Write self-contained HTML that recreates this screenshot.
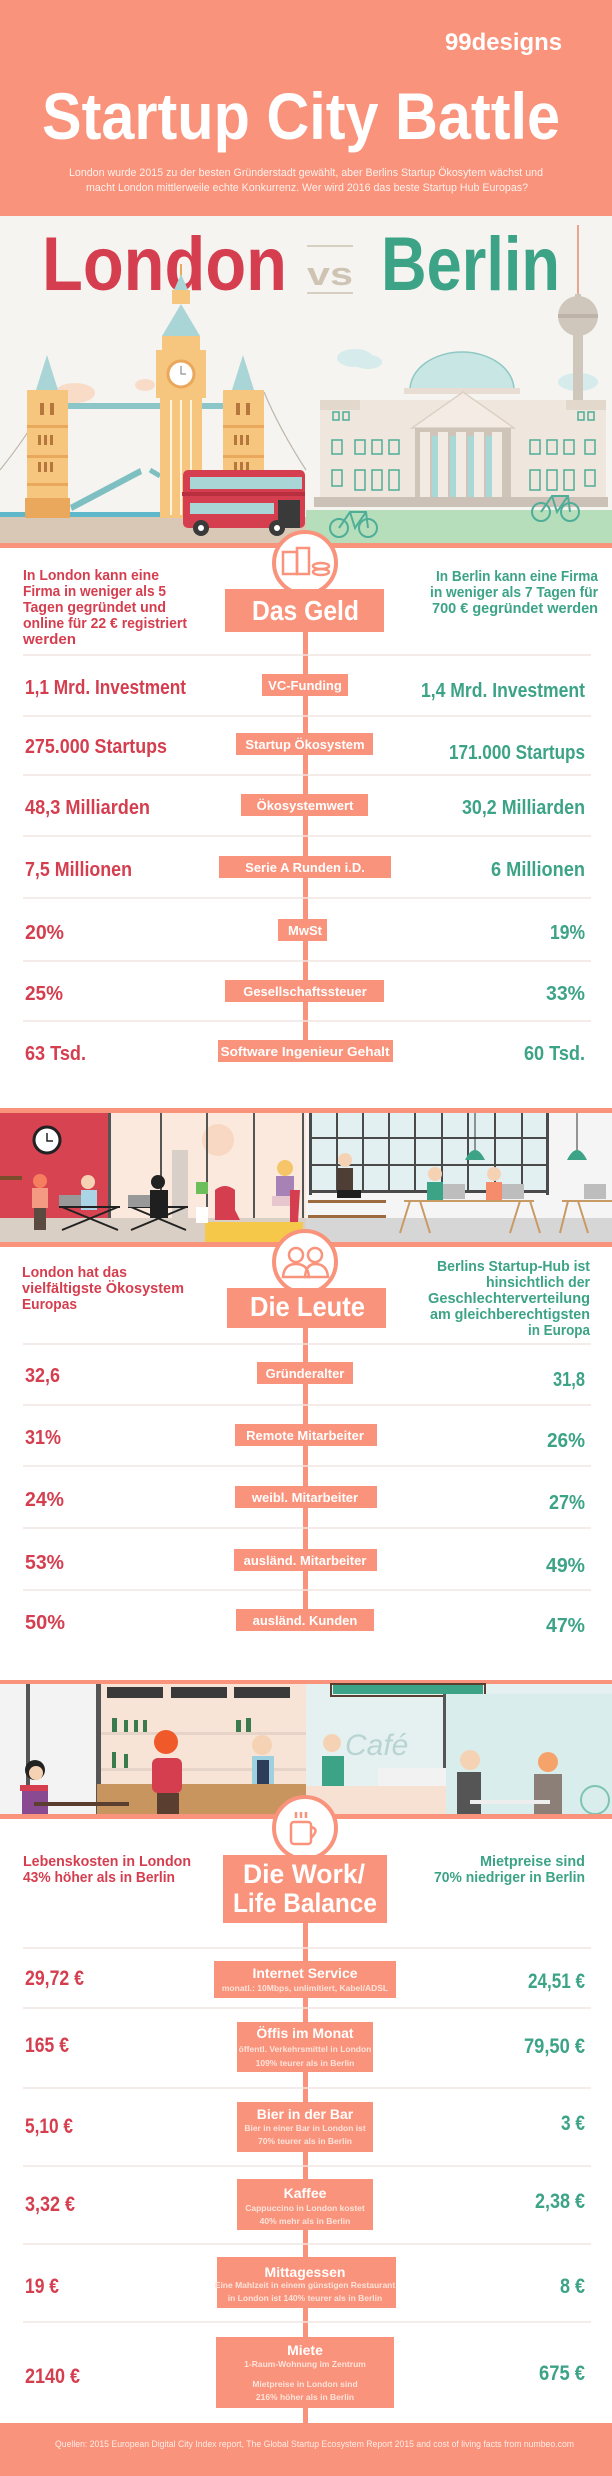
<!DOCTYPE html>
<html><head><meta charset="utf-8"><style>
html,body{margin:0;padding:0;background:#fff}
svg{display:block}
text{font-family:"Liberation Sans",sans-serif;font-weight:bold}
.r{fill:#D53E4F}.g{fill:#3CA387}.w{fill:#fff}
.lab{fill:#fff;font-size:13px;text-anchor:middle}
.sub{fill:#FDE3DA;font-size:8.5px;font-weight:normal;text-anchor:middle}
.sep{stroke:#EFE6E2;stroke-width:1.5}
.bx{fill:#F9937B}
</style></head><body>
<svg width="612" height="2476" viewBox="0 0 612 2476" xmlns="http://www.w3.org/2000/svg">
<!-- HEADER -->
<rect x="0" y="0" width="612" height="216" fill="#F9937B"/>
<text x="445" y="50" class="w" font-size="24" textLength="117" lengthAdjust="spacingAndGlyphs">99designs</text>
<text x="42" y="139" class="w" font-size="66" textLength="518" lengthAdjust="spacingAndGlyphs">Startup City Battle</text>
<text x="69" y="176" fill="#FFF1EC" font-size="11" style="font-weight:normal" textLength="474" lengthAdjust="spacingAndGlyphs">London wurde 2015 zu der besten Gründerstadt gewählt, aber Berlins Startup Ökosytem wächst und</text>
<text x="86" y="191" fill="#FFF1EC" font-size="11" style="font-weight:normal" textLength="442" lengthAdjust="spacingAndGlyphs">macht London mittlerweile echte Konkurrenz. Wer wird 2016 das beste Startup Hub Europas?</text>

<!-- HERO SCENE -->
<rect x="0" y="216" width="612" height="330" fill="#F5F4F0"/>
<!-- clouds -->
<ellipse cx="75" cy="393" rx="20" ry="10" fill="#F9DCC8"/><ellipse cx="62" cy="398" rx="14" ry="8" fill="#F9DCC8"/>
<ellipse cx="355" cy="358" rx="18" ry="9" fill="#D5EBEC"/><ellipse cx="368" cy="362" rx="14" ry="7" fill="#D5EBEC"/>
<ellipse cx="578" cy="382" rx="20" ry="9" fill="#D5EBEC"/>
<ellipse cx="145" cy="385" rx="10" ry="6" fill="#F9DCC8"/>
<!-- text -->
<text x="42" y="290" class="r" font-size="76" textLength="245" lengthAdjust="spacingAndGlyphs">London</text>
<line x1="307" y1="246" x2="353" y2="246" stroke="#D8CFC3" stroke-width="2"/>
<line x1="307" y1="293" x2="353" y2="293" stroke="#D8CFC3" stroke-width="2"/>
<text x="307" y="285" fill="#CFC4B4" font-size="32" textLength="46" lengthAdjust="spacingAndGlyphs">vs</text>
<text x="381" y="290" class="g" font-size="76" textLength="179" lengthAdjust="spacingAndGlyphs">Berlin</text>
<!-- TV tower -->
<line x1="578" y1="225" x2="578" y2="296" stroke="#E9A58E" stroke-width="2"/>
<rect x="575" y="294" width="6" height="8" fill="#D0C7BC"/>
<circle cx="578" cy="316" r="20" fill="#D0C7BC"/>
<rect x="558" y="314" width="40" height="4" fill="#BDB3A8"/>
<rect x="573" y="334" width="10" height="80" fill="#D0C7BC"/>
<!-- Reichstag -->
<path d="M410 390 A52 38 0 0 1 514 390 Z" fill="#C8E7E4" stroke="#8FC8C4" stroke-width="1.5"/>
<rect x="404" y="388" width="116" height="6" fill="#E8DDD2"/>
<rect x="320" y="400" width="286" height="105" fill="#EFE6DD"/>
<rect x="320" y="400" width="40" height="10" fill="#E3D8CC"/>
<rect x="566" y="400" width="40" height="10" fill="#E3D8CC"/>
<path d="M412 428 L463 392 L514 428 Z" fill="#F4ECE4" stroke="#DCD0C4" stroke-width="1.5"/>
<rect x="415" y="428" width="96" height="70" fill="#CFC4B8"/>
<rect x="420" y="432" width="10" height="66" fill="#F2EBE3"/><rect x="438" y="432" width="10" height="66" fill="#F2EBE3"/><rect x="456" y="432" width="10" height="66" fill="#F2EBE3"/><rect x="474" y="432" width="10" height="66" fill="#F2EBE3"/><rect x="492" y="432" width="10" height="66" fill="#F2EBE3"/>
<rect x="432" y="436" width="6" height="62" fill="#A9D9D6"/><rect x="450" y="436" width="6" height="62" fill="#A9D9D6"/><rect x="468" y="436" width="6" height="62" fill="#A9D9D6"/><rect x="486" y="436" width="6" height="62" fill="#A9D9D6"/>
<g fill="none" stroke="#4FAE98" stroke-width="1.5">
<rect x="332" y="440" width="10" height="14"/><rect x="355" y="440" width="10" height="14"/><rect x="372" y="440" width="10" height="14"/><rect x="389" y="440" width="10" height="14"/>
<rect x="332" y="470" width="10" height="16"/><rect x="355" y="470" width="10" height="20"/><rect x="372" y="470" width="10" height="20"/><rect x="389" y="470" width="10" height="20"/>
<rect x="530" y="440" width="10" height="14"/><rect x="547" y="440" width="10" height="14"/><rect x="564" y="440" width="10" height="14"/><rect x="585" y="440" width="10" height="14"/>
<rect x="530" y="470" width="10" height="20"/><rect x="547" y="470" width="10" height="20"/><rect x="564" y="470" width="10" height="20"/><rect x="585" y="470" width="10" height="16"/>
<rect x="333" y="412" width="6" height="8"/><rect x="343" y="412" width="6" height="8"/><rect x="578" y="412" width="6" height="8"/><rect x="588" y="412" width="6" height="8"/>
</g>
<rect x="314" y="497" width="294" height="10" fill="#CBC1B6"/>
<!-- grounds -->
<rect x="306" y="510" width="306" height="36" fill="#B6DEBB"/>
<rect x="0" y="512" width="160" height="5" fill="#5FB8CA"/>
<rect x="0" y="517" width="306" height="29" fill="#D8C8B5"/>
<!-- Tower Bridge -->
<rect x="27" y="403" width="196" height="6" fill="#8CC6C8"/>
<path d="M0 470 Q40 420 48 392" stroke="#BFB6AC" fill="none" stroke-width="1.2"/>
<path d="M264 392 Q280 430 306 470" stroke="#BFB6AC" fill="none" stroke-width="1.2"/>
<path d="M70 505 L140 468 L142 474 L72 511 Z" fill="#7EC0C2"/>
<path d="M150 470 L160 476" stroke="#7EC0C2" stroke-width="5"/>
<g>
<path d="M36 390 L47 355 L58 390 Z" fill="#A9D5D6"/>
<rect x="27" y="390" width="41" height="110" fill="#F6C67E"/>
<rect x="27" y="425" width="41" height="3" fill="#E9A85C"/><rect x="27" y="455" width="41" height="3" fill="#E9A85C"/><rect x="27" y="483" width="41" height="3" fill="#E9A85C"/>
<rect x="40" y="403" width="4" height="12" fill="#B5773E"/><rect x="50" y="403" width="4" height="12" fill="#B5773E"/>
<rect x="38" y="435" width="3" height="10" fill="#B5773E"/><rect x="44" y="435" width="3" height="10" fill="#B5773E"/><rect x="50" y="435" width="3" height="10" fill="#B5773E"/>
<rect x="38" y="462" width="3" height="10" fill="#B5773E"/><rect x="44" y="462" width="3" height="10" fill="#B5773E"/><rect x="50" y="462" width="3" height="10" fill="#B5773E"/>
<rect x="25" y="498" width="45" height="20" fill="#E9A85C"/>
</g>
<g>
<path d="M232 390 L243 355 L254 390 Z" fill="#A9D5D6"/>
<rect x="223" y="390" width="41" height="128" fill="#F6C67E"/>
<rect x="223" y="425" width="41" height="3" fill="#E9A85C"/><rect x="223" y="455" width="41" height="3" fill="#E9A85C"/><rect x="223" y="483" width="41" height="3" fill="#E9A85C"/>
<rect x="236" y="403" width="4" height="12" fill="#B5773E"/><rect x="246" y="403" width="4" height="12" fill="#B5773E"/>
<rect x="234" y="435" width="3" height="10" fill="#B5773E"/><rect x="240" y="435" width="3" height="10" fill="#B5773E"/><rect x="246" y="435" width="3" height="10" fill="#B5773E"/>
<rect x="234" y="462" width="3" height="10" fill="#B5773E"/><rect x="240" y="462" width="3" height="10" fill="#B5773E"/><rect x="246" y="462" width="3" height="10" fill="#B5773E"/>
</g>
<!-- Big Ben -->
<line x1="181" y1="264" x2="181" y2="276" stroke="#E9A85C" stroke-width="2"/>
<path d="M174 290 L181 274 L188 290 Z" fill="#A9D5D6"/>
<rect x="172" y="290" width="18" height="14" fill="#F6C67E"/>
<path d="M162 336 L181 304 L200 336 Z" fill="#A9D5D6"/>
<rect x="162" y="336" width="38" height="14" fill="#F6C67E"/>
<rect x="156" y="350" width="50" height="48" fill="#F6C67E"/>
<circle cx="181" cy="374" r="13" fill="#fff" stroke="#E9A85C" stroke-width="3"/>
<path d="M181 366 L181 374 L186 374" stroke="#777" fill="none" stroke-width="1"/>
<rect x="160" y="398" width="42" height="120" fill="#F6C67E"/>
<rect x="170" y="400" width="2" height="115" fill="#FFF3DE"/><rect x="180" y="400" width="2" height="115" fill="#FFF3DE"/><rect x="190" y="400" width="2" height="115" fill="#FFF3DE"/>
<!-- Bus -->
<rect x="183" y="470" width="122" height="58" rx="5" fill="#D53E4F"/>
<rect x="190" y="477" width="112" height="12" fill="#A9D5D6"/>
<rect x="182" y="492" width="123" height="4" fill="#B8303F"/>
<rect x="190" y="503" width="84" height="11" fill="#A9D5D6"/>
<rect x="278" y="500" width="22" height="28" fill="#3A3A3A"/>
<circle cx="201" cy="528" r="8" fill="#3A3A3A"/><circle cx="201" cy="528" r="3" fill="#fff"/>
<circle cx="277" cy="528" r="8" fill="#3A3A3A"/><circle cx="277" cy="528" r="3" fill="#fff"/>
<!-- bikes -->
<g fill="none" stroke="#4FAE98" stroke-width="2">
<circle cx="339" cy="528" r="9"/><circle cx="368" cy="528" r="9"/><path d="M339 528 L350 512 L366 512 L368 528 M350 512 L355 528 L366 512"/>
<circle cx="541" cy="512" r="9"/><circle cx="570" cy="512" r="9"/><path d="M541 512 L552 496 L568 496 L570 512 M552 496 L557 512 L568 496"/>
</g>
<rect x="0" y="543" width="612" height="5" fill="#F9937B"/>

<!-- SECTION 1: DAS GELD -->
<rect x="303" y="620" width="5" height="431" class="bx"/>
<circle cx="305" cy="563" r="31" fill="#fff" stroke="#F9937B" stroke-width="4"/>
<g fill="none" stroke="#F9937B" stroke-width="2.5"><rect x="283" y="552" width="14" height="22"/><rect x="297" y="548" width="12" height="26"/><ellipse cx="321" cy="566" rx="8" ry="3"/><ellipse cx="321" cy="572" rx="8" ry="3"/></g>
<rect x="225" y="589" width="159" height="43" class="bx"/>
<text x="252" y="620" class="w" font-size="28" textLength="107" lengthAdjust="spacingAndGlyphs">Das Geld</text>
<g class="r" font-size="15">
<text x="23" y="580" textLength="136" lengthAdjust="spacingAndGlyphs">In London kann eine</text>
<text x="23" y="596" textLength="143" lengthAdjust="spacingAndGlyphs">Firma in weniger als 5</text>
<text x="23" y="612" textLength="143" lengthAdjust="spacingAndGlyphs">Tagen gegründet und</text>
<text x="23" y="628" textLength="164" lengthAdjust="spacingAndGlyphs">online für 22 € registriert</text>
<text x="23" y="644" textLength="53" lengthAdjust="spacingAndGlyphs">werden</text>
</g>
<g class="g" font-size="15" text-anchor="end">
<text x="598" y="581" textLength="162" lengthAdjust="spacingAndGlyphs">In Berlin kann eine Firma</text>
<text x="598" y="597" textLength="168" lengthAdjust="spacingAndGlyphs">in weniger als 7 Tagen für</text>
<text x="598" y="613" textLength="166" lengthAdjust="spacingAndGlyphs">700 € gegründet werden</text>
</g>
<g class="sep"><line x1="23" y1="655" x2="591" y2="655"/><line x1="23" y1="716" x2="591" y2="716"/><line x1="23" y1="775" x2="591" y2="775"/><line x1="23" y1="836" x2="591" y2="836"/><line x1="23" y1="898" x2="591" y2="898"/><line x1="23" y1="961" x2="591" y2="961"/><line x1="23" y1="1021" x2="591" y2="1021"/></g>
<g class="bx">
<rect x="262" y="674" width="86" height="22"/><rect x="236" y="733" width="137" height="22"/><rect x="241" y="794" width="127" height="22"/><rect x="219" y="856" width="172" height="22"/><rect x="278" y="919" width="49" height="22"/><rect x="225" y="980" width="159" height="22"/><rect x="218" y="1040" width="175" height="22"/>
</g>
<g class="lab">
<text x="305" y="690">VC-Funding</text><text x="305" y="749">Startup Ökosystem</text><text x="305" y="810">Ökosystemwert</text><text x="305" y="872">Serie A Runden i.D.</text><text x="305" y="935">MwSt</text><text x="305" y="996">Gesellschaftssteuer</text><text x="305" y="1056" textLength="169" lengthAdjust="spacingAndGlyphs">Software Ingenieur Gehalt</text>
</g>
<g class="r" font-size="20">
<text x="25" y="694" textLength="161" lengthAdjust="spacingAndGlyphs">1,1 Mrd. Investment</text>
<text x="25" y="753" textLength="142" lengthAdjust="spacingAndGlyphs">275.000 Startups</text>
<text x="25" y="814" textLength="125" lengthAdjust="spacingAndGlyphs">48,3 Milliarden</text>
<text x="25" y="876" textLength="107" lengthAdjust="spacingAndGlyphs">7,5 Millionen</text>
<text x="25" y="939" textLength="39" lengthAdjust="spacingAndGlyphs">20%</text>
<text x="25" y="1000" textLength="38" lengthAdjust="spacingAndGlyphs">25%</text>
<text x="25" y="1060" textLength="61" lengthAdjust="spacingAndGlyphs">63 Tsd.</text>
</g>
<g class="g" font-size="20" text-anchor="end">
<text x="585" y="697" textLength="164" lengthAdjust="spacingAndGlyphs">1,4 Mrd. Investment</text>
<text x="585" y="759" textLength="136" lengthAdjust="spacingAndGlyphs">171.000 Startups</text>
<text x="585" y="814" textLength="123" lengthAdjust="spacingAndGlyphs">30,2 Milliarden</text>
<text x="585" y="876" textLength="94" lengthAdjust="spacingAndGlyphs">6 Millionen</text>
<text x="585" y="939" textLength="35" lengthAdjust="spacingAndGlyphs">19%</text>
<text x="585" y="1000" textLength="39" lengthAdjust="spacingAndGlyphs">33%</text>
<text x="585" y="1060" textLength="61" lengthAdjust="spacingAndGlyphs">60 Tsd.</text>
</g>

<!-- OFFICE SCENE -->
<rect x="0" y="1108" width="612" height="5" fill="#F9937B"/>
<rect x="0" y="1113" width="306" height="130" fill="#FBE9DD"/>
<rect x="0" y="1113" width="109" height="105" fill="#D84352"/>
<circle cx="218" cy="1140" r="16" fill="#F8D8C2"/>
<g fill="#555"><rect x="108" y="1113" width="3" height="105"/><rect x="160" y="1113" width="2" height="105"/><rect x="206" y="1113" width="2" height="105"/><rect x="253" y="1113" width="2" height="105"/><rect x="302" y="1113" width="2" height="105"/></g>
<rect x="172" y="1150" width="16" height="68" fill="#D8CFC8"/>
<rect x="0" y="1218" width="306" height="25" fill="#D9CFC4"/>
<rect x="205" y="1222" width="98" height="20" fill="#F6C84A"/>
<circle cx="47" cy="1140" r="13" fill="#fff" stroke="#222" stroke-width="3"/>
<path d="M47 1133 L47 1141 L53 1141" stroke="#222" fill="none" stroke-width="1.5"/>
<rect x="0" y="1176" width="22" height="4" fill="#7A4E2D"/>
<!-- people office left -->
<circle cx="40" cy="1181" r="7" fill="#F57E5E"/><rect x="32" y="1188" width="16" height="20" fill="#F59A82"/><rect x="34" y="1208" width="12" height="22" fill="#5A4A40"/>
<circle cx="88" cy="1182" r="7" fill="#F6D2B5"/><rect x="81" y="1190" width="16" height="20" fill="#A9D5E6"/>
<rect x="59" y="1195" width="22" height="12" fill="#999"/>
<g stroke="#222" stroke-width="2" fill="none"><path d="M59 1207 H120 M62 1207 L118 1230 M118 1207 L62 1230"/><path d="M128 1207 H188 M131 1207 L186 1230 M186 1207 L131 1230"/></g>
<circle cx="158" cy="1182" r="7" fill="#222"/><rect x="150" y="1190" width="18" height="28" fill="#1F1F1F"/>
<rect x="128" y="1195" width="22" height="12" fill="#999"/>
<rect x="196" y="1182" width="12" height="12" fill="#6BBE5A"/><rect x="196" y="1207" width="12" height="16" fill="#fff"/>
<path d="M215 1220 L215 1190 Q225 1182 235 1190 L235 1210 L240 1220 Z" fill="#D53E4F"/>
<circle cx="285" cy="1168" r="8" fill="#F6C56A"/><rect x="276" y="1176" width="18" height="20" fill="#A682B6"/><rect x="272" y="1196" width="20" height="10" fill="#E8C6CE"/>
<path d="M290 1190 L300 1190 L298 1222 L290 1222 Z" fill="#D53E4F"/>
<!-- right office -->
<rect x="306" y="1113" width="306" height="130" fill="#F5F5F5"/>
<rect x="309" y="1113" width="240" height="79" fill="#E3F0F2"/>
<g fill="#4A4A4A"><rect x="309" y="1113" width="3" height="82"/><rect x="336" y="1113" width="2" height="79"/><rect x="362" y="1113" width="2" height="79"/><rect x="388" y="1113" width="2" height="79"/><rect x="414" y="1113" width="2" height="79"/><rect x="441" y="1113" width="2" height="79"/><rect x="467" y="1113" width="2" height="79"/><rect x="494" y="1113" width="2" height="79"/><rect x="521" y="1113" width="2" height="79"/><rect x="546" y="1113" width="3" height="82"/>
<rect x="309" y="1137" width="240" height="2"/><rect x="309" y="1164" width="240" height="2"/><rect x="309" y="1190" width="240" height="3"/></g>
<rect x="306" y="1218" width="306" height="25" fill="#D6D6D6"/>
<line x1="475" y1="1113" x2="475" y2="1150" stroke="#333"/><path d="M465 1160 Q475 1140 485 1160 Z" fill="#3CA387"/>
<line x1="577" y1="1113" x2="577" y2="1150" stroke="#333"/><path d="M567 1160 Q577 1140 587 1160 Z" fill="#3CA387"/>
<circle cx="345" cy="1160" r="7" fill="#F6D2B5"/><rect x="337" y="1168" width="16" height="22" fill="#4E3E36"/><rect x="337" y="1190" width="24" height="8" fill="#1F1F1F"/>
<rect x="308" y="1200" width="78" height="3" fill="#9C6A3E"/><rect x="308" y="1215" width="78" height="3" fill="#9C6A3E"/>
<circle cx="435" cy="1174" r="7" fill="#F6D2B5"/><rect x="427" y="1182" width="16" height="18" fill="#3CA387"/>
<circle cx="494" cy="1174" r="7" fill="#F6D2B5"/><rect x="486" y="1182" width="16" height="18" fill="#F58C6B"/>
<rect x="443" y="1184" width="22" height="15" fill="#BDBDBD"/><rect x="502" y="1184" width="22" height="15" fill="#BDBDBD"/><rect x="584" y="1184" width="22" height="15" fill="#BDBDBD"/>
<g stroke="#C89A66" stroke-width="2" fill="none"><path d="M404 1201 H534 M410 1201 L400 1233 M420 1201 L430 1233 M520 1201 L510 1233 M530 1201 L540 1233"/><path d="M562 1201 H612 M568 1201 L560 1233 M578 1201 L588 1233"/></g>
<rect x="0" y="1242" width="612" height="5" fill="#F9937B"/>

<!-- SECTION 2: DIE LEUTE -->
<rect x="303" y="1320" width="5" height="300" class="bx"/>
<circle cx="305" cy="1262" r="31" fill="#fff" stroke="#F9937B" stroke-width="4"/>
<g fill="none" stroke="#F9937B" stroke-width="2.5"><circle cx="296" cy="1255" r="7"/><path d="M283 1277 Q284 1264 296 1264 Q308 1264 309 1277 Z"/><circle cx="315" cy="1255" r="7"/><path d="M305 1277 Q306 1264 315 1264 Q327 1264 328 1277 Z"/></g>
<rect x="227" y="1288" width="159" height="40" class="bx"/>
<text x="250" y="1316" class="w" font-size="28" textLength="115" lengthAdjust="spacingAndGlyphs">Die Leute</text>
<g class="r" font-size="15">
<text x="22" y="1277" textLength="105" lengthAdjust="spacingAndGlyphs">London hat das</text>
<text x="22" y="1293" textLength="162" lengthAdjust="spacingAndGlyphs">vielfältigste Ökosystem</text>
<text x="22" y="1309" textLength="55" lengthAdjust="spacingAndGlyphs">Europas</text>
</g>
<g class="g" font-size="15" text-anchor="end">
<text x="590" y="1271" textLength="153" lengthAdjust="spacingAndGlyphs">Berlins Startup-Hub ist</text>
<text x="590" y="1287" textLength="104" lengthAdjust="spacingAndGlyphs">hinsichtlich der</text>
<text x="590" y="1303" textLength="162" lengthAdjust="spacingAndGlyphs">Geschlechterverteilung</text>
<text x="590" y="1319" textLength="160" lengthAdjust="spacingAndGlyphs">am gleichberechtigsten</text>
<text x="590" y="1335" textLength="62" lengthAdjust="spacingAndGlyphs">in Europa</text>
</g>
<g class="sep"><line x1="23" y1="1344" x2="591" y2="1344"/><line x1="23" y1="1405" x2="591" y2="1405"/><line x1="23" y1="1466" x2="591" y2="1466"/><line x1="23" y1="1528" x2="591" y2="1528"/><line x1="23" y1="1590" x2="591" y2="1590"/></g>
<g class="bx"><rect x="257" y="1362" width="96" height="22"/><rect x="235" y="1424" width="142" height="22"/><rect x="235" y="1486" width="142" height="22"/><rect x="234" y="1549" width="143" height="22"/><rect x="236" y="1609" width="138" height="22"/></g>
<g class="lab"><text x="305" y="1378">Gründeralter</text><text x="305" y="1440">Remote Mitarbeiter</text><text x="305" y="1502">weibl. Mitarbeiter</text><text x="305" y="1565">ausländ. Mitarbeiter</text><text x="305" y="1625">ausländ. Kunden</text></g>
<g class="r" font-size="20">
<text x="25" y="1382" textLength="35" lengthAdjust="spacingAndGlyphs">32,6</text>
<text x="25" y="1444" textLength="36" lengthAdjust="spacingAndGlyphs">31%</text>
<text x="25" y="1506" textLength="39" lengthAdjust="spacingAndGlyphs">24%</text>
<text x="25" y="1569" textLength="39" lengthAdjust="spacingAndGlyphs">53%</text>
<text x="25" y="1629" textLength="40" lengthAdjust="spacingAndGlyphs">50%</text>
</g>
<g class="g" font-size="20" text-anchor="end">
<text x="585" y="1386" textLength="32" lengthAdjust="spacingAndGlyphs">31,8</text>
<text x="585" y="1447" textLength="38" lengthAdjust="spacingAndGlyphs">26%</text>
<text x="585" y="1509" textLength="36" lengthAdjust="spacingAndGlyphs">27%</text>
<text x="585" y="1572" textLength="39" lengthAdjust="spacingAndGlyphs">49%</text>
<text x="585" y="1632" textLength="39" lengthAdjust="spacingAndGlyphs">47%</text>
</g>

<!-- BAR / CAFE SCENE -->
<rect x="0" y="1680" width="612" height="4" fill="#F9937B"/>
<rect x="0" y="1684" width="306" height="130" fill="#F8E4D7"/>
<rect x="0" y="1684" width="100" height="130" fill="#F3F3F3"/>
<rect x="26" y="1684" width="4" height="130" fill="#555"/><rect x="96" y="1684" width="5" height="130" fill="#555"/>
<g fill="#3A3A3A"><rect x="107" y="1687" width="56" height="11"/><rect x="171" y="1687" width="56" height="11"/><rect x="234" y="1687" width="56" height="11"/></g>
<rect x="101" y="1732" width="205" height="3" fill="#E6D4C8"/><rect x="101" y="1768" width="205" height="3" fill="#E6D4C8"/>
<g fill="#3B7A4C"><rect x="112" y="1718" width="5" height="14"/><rect x="124" y="1720" width="4" height="12"/><rect x="134" y="1720" width="4" height="12"/><rect x="143" y="1720" width="4" height="12"/><rect x="112" y="1752" width="4" height="16"/><rect x="124" y="1754" width="4" height="14"/><rect x="236" y="1720" width="5" height="12"/><rect x="246" y="1718" width="5" height="14"/></g>
<rect x="97" y="1784" width="209" height="30" fill="#C8955E"/>
<circle cx="166" cy="1742" r="12" fill="#F05A2A"/><rect x="152" y="1758" width="30" height="35" rx="6" fill="#D53E4F"/><rect x="157" y="1793" width="22" height="21" fill="#5A3E30"/>
<circle cx="262" cy="1745" r="10" fill="#F6D2B5"/><rect x="252" y="1756" width="22" height="28" fill="#9FD0E0"/><rect x="257" y="1760" width="12" height="24" fill="#2E3E5A"/>
<circle cx="35" cy="1770" r="10" fill="#222"/><circle cx="36" cy="1773" r="7" fill="#F6D2B5"/><rect x="22" y="1785" width="26" height="29" fill="#8A4A92"/><rect x="20" y="1785" width="28" height="6" fill="#D53E4F"/>
<rect x="34" y="1802" width="95" height="4" fill="#5A3E30"/>
<rect x="306" y="1684" width="306" height="130" fill="#E5F1F0"/>
<rect x="333" y="1684" width="150" height="10" fill="#3CA387"/><rect x="331" y="1684" width="154" height="12" fill="none" stroke="#5A3E30" stroke-width="2"/>
<rect x="445" y="1694" width="167" height="120" fill="#D9EDEC"/>
<rect x="443" y="1694" width="3" height="120" fill="#555"/>
<text x="345" y="1755" fill="#B8D4D2" font-size="30" style="font-style:italic;font-weight:normal">Café</text>
<rect x="378" y="1768" width="68" height="20" fill="#F2F2F2"/>
<circle cx="332" cy="1743" r="9" fill="#F6D2B5"/><rect x="322" y="1756" width="22" height="30" fill="#3CA387"/>
<rect x="306" y="1786" width="140" height="28" fill="#F6E1D3"/>
<circle cx="470" cy="1760" r="10" fill="#F6D2B5"/><rect x="457" y="1772" width="24" height="42" fill="#555"/>
<circle cx="548" cy="1762" r="10" fill="#F6A36B"/><rect x="534" y="1774" width="28" height="40" fill="#8C7F77"/>
<rect x="470" y="1800" width="80" height="4" fill="#EEE"/>
<circle cx="595" cy="1800" r="14" fill="none" stroke="#7EC4B4" stroke-width="2"/>
<rect x="0" y="1814" width="612" height="5" fill="#F9937B"/>

<!-- SECTION 3: WORK/LIFE -->
<rect x="303" y="1900" width="5" height="523" class="bx"/>
<circle cx="305" cy="1828" r="31" fill="#fff" stroke="#F9937B" stroke-width="4"/>
<g fill="none" stroke="#F9937B" stroke-width="2.5"><rect x="291" y="1822" width="20" height="22" rx="3"/><path d="M311 1827 Q320 1829 311 1838"/><path d="M296 1812 v6 M301 1812 v6 M306 1812 v6"/></g>
<rect x="223" y="1855" width="164" height="68" class="bx"/>
<text x="243" y="1883" class="w" font-size="27" textLength="122" lengthAdjust="spacingAndGlyphs">Die Work/</text>
<text x="233" y="1912" class="w" font-size="27" textLength="144" lengthAdjust="spacingAndGlyphs">Life Balance</text>
<g class="r" font-size="15">
<text x="23" y="1866" textLength="168" lengthAdjust="spacingAndGlyphs">Lebenskosten in London</text>
<text x="23" y="1882" textLength="152" lengthAdjust="spacingAndGlyphs">43% höher als in Berlin</text>
</g>
<g class="g" font-size="15" text-anchor="end">
<text x="585" y="1866" textLength="105" lengthAdjust="spacingAndGlyphs">Mietpreise sind</text>
<text x="585" y="1882" textLength="151" lengthAdjust="spacingAndGlyphs">70% niedriger in Berlin</text>
</g>
<g class="sep"><line x1="23" y1="1948" x2="591" y2="1948"/><line x1="23" y1="2008" x2="591" y2="2008"/><line x1="23" y1="2088" x2="591" y2="2088"/><line x1="23" y1="2166" x2="591" y2="2166"/><line x1="23" y1="2244" x2="591" y2="2244"/><line x1="23" y1="2322" x2="591" y2="2322"/></g>
<g class="bx">
<rect x="214" y="1961" width="182" height="37"/>
<rect x="237" y="2022" width="136" height="50"/>
<rect x="237" y="2102" width="136" height="50"/>
<rect x="237" y="2179" width="136" height="51"/>
<rect x="217" y="2257" width="179" height="51"/>
<rect x="216" y="2337" width="178" height="71"/>
</g>
<g class="lab" font-size="14">
<text x="305" y="1978" style="font-size:14px">Internet Service</text>
<text x="305" y="2038" style="font-size:14px">Öffis im Monat</text>
<text x="305" y="2119" style="font-size:14px">Bier in der Bar</text>
<text x="305" y="2198" style="font-size:14px">Kaffee</text>
<text x="305" y="2277" style="font-size:14px">Mittagessen</text>
<text x="305" y="2355" style="font-size:14px">Miete</text>
</g>
<g class="sub">
<text x="305" y="1991">monatl.: 10Mbps, unlimitiert, Kabel/ADSL</text>
<text x="305" y="2052">öffentl. Verkehrsmittel in London</text>
<text x="305" y="2066">109% teurer als in Berlin</text>
<text x="305" y="2131">Bier in einer Bar in London ist</text>
<text x="305" y="2144">70% teurer als in Berlin</text>
<text x="305" y="2211">Cappuccino in London kostet</text>
<text x="305" y="2224">40% mehr als in Berlin</text>
<text x="305" y="2288">Eine Mahlzeit in einem günstigen Restaurant</text>
<text x="305" y="2301">in London ist 140% teurer als in Berlin</text>
<text x="305" y="2367">1-Raum-Wohnung im Zentrum</text>
<text x="305" y="2387">Mietpreise in London sind</text>
<text x="305" y="2400">216% höher als in Berlin</text>
</g>
<g class="r" font-size="21">
<text x="25" y="1985" textLength="59" lengthAdjust="spacingAndGlyphs">29,72 €</text>
<text x="25" y="2052" textLength="44" lengthAdjust="spacingAndGlyphs">165 €</text>
<text x="25" y="2133" textLength="48" lengthAdjust="spacingAndGlyphs">5,10 €</text>
<text x="25" y="2211" textLength="50" lengthAdjust="spacingAndGlyphs">3,32 €</text>
<text x="25" y="2293" textLength="34" lengthAdjust="spacingAndGlyphs">19 €</text>
<text x="25" y="2383" textLength="55" lengthAdjust="spacingAndGlyphs">2140 €</text>
</g>
<g class="g" font-size="21" text-anchor="end">
<text x="585" y="1988" textLength="57" lengthAdjust="spacingAndGlyphs">24,51 €</text>
<text x="585" y="2053" textLength="61" lengthAdjust="spacingAndGlyphs">79,50 €</text>
<text x="585" y="2130" textLength="24" lengthAdjust="spacingAndGlyphs">3 €</text>
<text x="585" y="2208" textLength="50" lengthAdjust="spacingAndGlyphs">2,38 €</text>
<text x="585" y="2293" textLength="25" lengthAdjust="spacingAndGlyphs">8 €</text>
<text x="585" y="2380" textLength="46" lengthAdjust="spacingAndGlyphs">675 €</text>
</g>

<!-- FOOTER -->
<rect x="0" y="2423" width="612" height="53" fill="#F9937B"/>
<text x="55" y="2447" fill="#FFEDE6" font-size="9" style="font-weight:normal" textLength="519" lengthAdjust="spacingAndGlyphs">Quellen: 2015 European Digital City Index report, The Global Startup Ecosystem Report 2015 and cost of living facts from numbeo.com</text>
</svg>
</body></html>
